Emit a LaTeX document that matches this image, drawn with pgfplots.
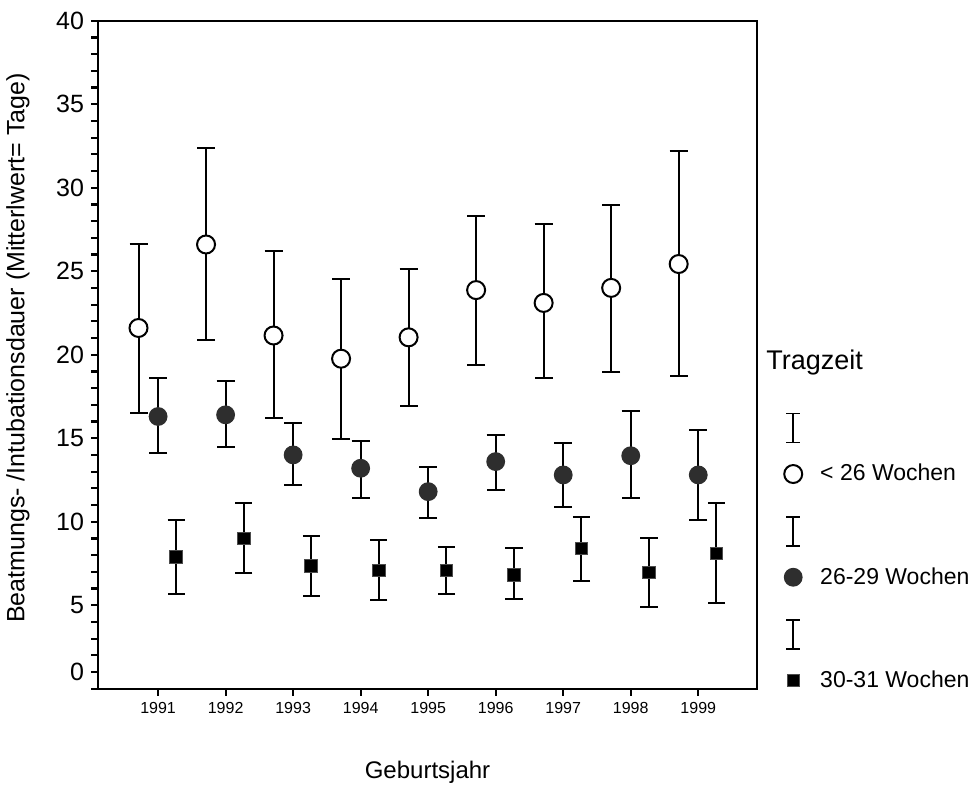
\documentclass[border=0pt]{standalone}
\usepackage{fontspec}
\setmainfont{Liberation Sans}
\usepackage{pgfplots}
\usepackage{pgfplotstable}
\pgfplotsset{compat=1.18}

\pgfplotstableread{
x        y      ep    em
1990.71  21.60  5.00  5.10
1991.71  26.60  5.80  5.70
1992.71  21.15  5.05  4.95
1993.71  19.76  4.79  4.79
1994.71  21.04  4.11  4.14
1995.71  23.87  4.43  4.51
1996.71  23.10  4.70  4.50
1997.71  24.00  4.95  5.04
1998.71  25.43  6.77  6.73
}\dataA

\pgfplotstableread{
x        y      ep    em
1991.00  16.30  2.30  2.20
1992.00  16.40  2.04  1.95
1993.00  14.00  1.90  1.80
1994.00  13.20  1.65  1.80
1995.00  11.80  1.50  1.60
1996.00  13.60  1.60  1.70
1997.00  12.80  1.90  1.90
1998.00  13.95  2.70  2.55
1999.00  12.80  2.67  2.70
}\dataB

\pgfplotstableread{
x        y      ep    em
1991.27  7.90   2.20  2.25
1992.27  9.00   2.10  2.06
1993.27  7.35   1.80  1.82
1994.27  7.08   1.82  1.79
1995.27  7.08   1.42  1.41
1996.27  6.83   1.57  1.44
1997.27  8.40   1.90  1.97
1998.27  6.96   2.04  2.07
1999.27  8.10   3.00  2.95
}\dataC

\begin{document}
\begin{tikzpicture}
\path[use as bounding box] (-49bp,-49bp) rectangle (439.5bp,344.35bp);
\begin{axis}[
  at={(0,0)}, anchor=south west,
  width=329.5bp, height=334bp, scale only axis,
  xmin=1990.11, xmax=1999.87, ymin=0, ymax=40,
  axis line style={line width=1.1bp, black},
  tick pos=left, tick align=outside,
  major tick length=3.5bp, minor tick length=3.5bp,
  every tick/.style={line width=1.1bp, black},
  ytick={1,5,10,15,20,25,30,35,40},
  yticklabels={0,5,10,15,20,25,30,35,40},
  minor ytick={0,2,3,4,6,7,8,9,11,12,13,14,16,17,18,19,21,22,23,24,26,27,28,29,31,32,33,34,36,37,38,39},
  xtick={1991,1992,1993,1994,1995,1996,1997,1998,1999},
  xticklabels={1991,1992,1993,1994,1995,1996,1997,1998,1999},
  yticklabel style={font=\fontsize{12.5bp}{14bp}\selectfont},
  xticklabel style={font=\fontsize{8bp}{10bp}\selectfont},
  xlabel={Geburtsjahr},
  ylabel={Beatmungs- /Intubationsdauer (Mitterlwert= Tage)},
  xlabel style={font=\fontsize{12bp}{14bp}\selectfont, at={(axis description cs:0.5,-0.1257)}, anchor=center},
  ylabel style={font=\fontsize{12.5bp}{14bp}\selectfont, at={(axis description cs:-0.1214,0.51)}, anchor=center},
  legend cell align=left,
  legend style={draw=none, fill=none, inner sep=0pt, outer sep=0pt,
    at={(axis description cs:1.0413,0.4133)}, anchor=north west,
    row sep=16bp, column sep=9bp,
    font=\fontsize{11.5bp}{13bp}\selectfont,
    nodes={inner sep=0pt}},
  clip=false,
]
\addplot[forget plot, black, only marks, mark=*, mark size=4.5bp,
  mark options={fill=white, draw=black, line width=1bp},
  error bars/.cd, y dir=both, y explicit, error mark=|,
  error bar style={line width=1bp, black},
  error mark options={mark size=4.5bp, line width=1bp, black},
  ] table[x=x, y=y, y error plus=ep, y error minus=em] {\dataA};
\addplot[forget plot, black, only marks, mark=*, mark size=4.4bp,
  mark options={fill=black!82, draw=black!82, line width=0.6bp},
  error bars/.cd, y dir=both, y explicit, error mark=|,
  error bar style={line width=1bp, black},
  error mark options={mark size=4.5bp, line width=1bp, black},
  ] table[x=x, y=y, y error plus=ep, y error minus=em] {\dataB};
\addplot[forget plot, black, only marks, mark=square*, mark size=3.2bp,
  mark options={fill=black, draw=black!70, line width=0.5bp},
  error bars/.cd, y dir=both, y explicit, error mark=|,
  error bar style={line width=1bp, black},
  error mark options={mark size=4.3bp, line width=1bp, black},
  ] table[x=x, y=y, y error plus=ep, y error minus=em] {\dataC};

\addlegendimage{legend image code/.code={
  \draw[black, line width=0.9bp] (-3.6bp,15.75bp)--(3.6bp,15.75bp) (0bp,15.75bp)--(0bp,30.25bp) (-3.6bp,30.25bp)--(3.6bp,30.25bp);
  \draw[mark=*, mark size=4.5bp, mark options={fill=white, draw=black, line width=1bp}, only marks] plot coordinates {(0bp,0bp)};
}}
\addlegendentry{< 26 Wochen}
\addlegendimage{legend image code/.code={
  \draw[black, line width=0.9bp] (-3.6bp,15.75bp)--(3.6bp,15.75bp) (0bp,15.75bp)--(0bp,30.25bp) (-3.6bp,30.25bp)--(3.6bp,30.25bp);
  \draw[mark=*, mark size=4.4bp, mark options={fill=black!82, draw=black!82, line width=0.6bp}, only marks] plot coordinates {(0bp,0bp)};
}}
\addlegendentry{26-29 Wochen}
\addlegendimage{legend image code/.code={
  \draw[black, line width=0.9bp] (-3.6bp,15.75bp)--(3.6bp,15.75bp) (0bp,15.75bp)--(0bp,30.25bp) (-3.6bp,30.25bp)--(3.6bp,30.25bp);
  \draw[mark=square*, mark size=3bp, mark options={fill=black, draw=black!70, line width=0.5bp}, only marks] plot coordinates {(0bp,0bp)};
}}
\addlegendentry{30-31 Wochen}

\node[anchor=west, font=\fontsize{13.5bp}{16bp}\selectfont, inner sep=0pt] at (axis description cs:1.0137,0.489) {Tragzeit};
\end{axis}
\end{tikzpicture}
\end{document}
